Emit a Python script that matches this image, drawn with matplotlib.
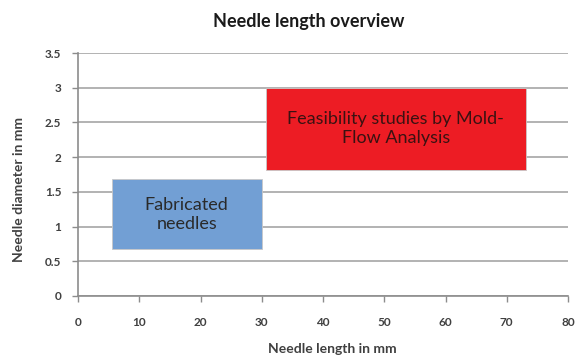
import matplotlib
matplotlib.use("Agg")
import matplotlib.pyplot as plt

# Data
labels = ["Fabricated\nneedles", "Feasibility studies by Mold-\nFlow Analysis"]
x_start = [5.5, 30.7]
x_end = [30.0, 73.1]
y_bottom = [0.67, 1.82]
y_top = [1.68, 3.0]
colors = ["#729fd4", "#ed1c24"]
text_colors = ["#2a2a2a", "#3a1212"]
x_ticks = [0, 10, 20, 30, 40, 50, 60, 70, 80]
y_ticks = [0, 0.5, 1, 1.5, 2, 2.5, 3, 3.5]
y_tick_labels = ["0", "0.5", "1", "1.5", "2", "2.5", "3", "3.5"]

plt.rcParams['font.family'] = ['Lato', 'DejaVu Sans']

fig = plt.figure(figsize=(5.77, 3.56), dpi=100)
ax = fig.add_axes([78/577, 1-296/356, (568-78)/577, (296-53)/356])

ax.set_xlim(0, 80)
ax.set_ylim(0, 3.5)
ax.set_yticks(y_ticks)
ax.set_yticklabels(y_tick_labels)
ax.set_xticks(x_ticks)

ax.grid(axis='y', color='#a6a6a6', linewidth=1.2)
ax.set_axisbelow(True)

for s in ['top', 'right']:
    ax.spines[s].set_visible(False)
for s in ['left', 'bottom']:
    ax.spines[s].set_color('#8c8c8c')
    ax.spines[s].set_linewidth(1.2)

ax.tick_params(axis='y', length=4, width=1, color='#8c8c8c', pad=8,
               labelsize=8.5, labelcolor='#404040')
ax.tick_params(axis='x', length=4, width=1, color='#8c8c8c', pad=11,
               labelsize=8.5, labelcolor='#404040')
for lbl in ax.get_xticklabels() + ax.get_yticklabels():
    lbl.set_fontweight('bold')

for lab, x0, x1, y0, y1, c, tc in zip(labels, x_start, x_end, y_bottom, y_top,
                                      colors, text_colors):
    ax.bar(x0, y1 - y0, width=x1 - x0, bottom=y0, align='edge', color=c,
           edgecolor='#c8c8c8', linewidth=0.6, zorder=3)
    ax.text((x0 + x1) / 2, (y0 + y1) / 2, lab, ha='center', va='center',
            fontsize=13, color=tc, zorder=4, linespacing=1.25)

fig.text(309/577, 1-22/356, "Needle length overview", ha='center', va='center',
         fontsize=13, fontweight='bold', color='#1a1a1a')
fig.text(332/577, 1-349/356, "Needle length in mm", ha='center', va='center',
         fontsize=10, fontweight='bold', color='#404040')
fig.text(19/577, 1-190/356, "Needle diameter in mm", ha='center', va='center',
         rotation=90, fontsize=10, fontweight='bold', color='#404040')

fig.savefig("out.png", dpi=100, facecolor='white')
